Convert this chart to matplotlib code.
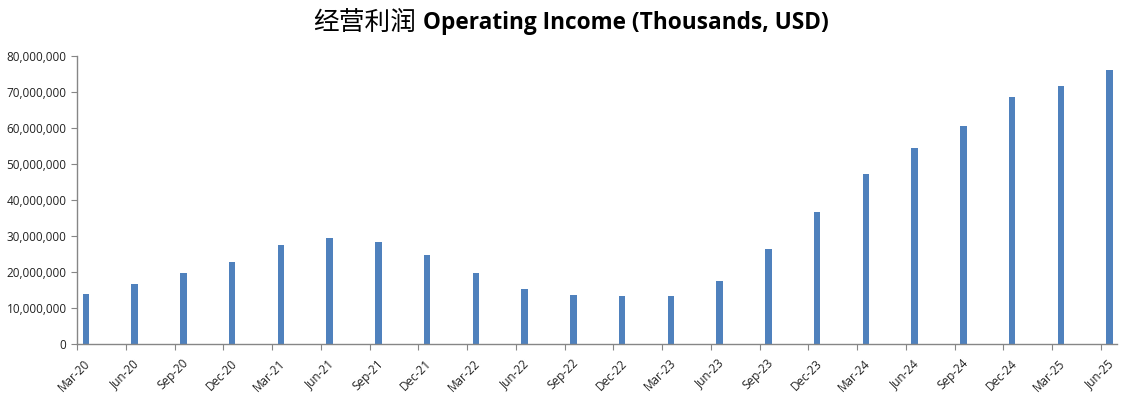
import matplotlib
matplotlib.use("Agg")
import matplotlib.pyplot as plt
from matplotlib.ticker import FuncFormatter
from matplotlib.transforms import ScaledTranslation

quarters = ["Mar-20", "Jun-20", "Sep-20", "Dec-20", "Mar-21", "Jun-21", "Sep-21", "Dec-21",
            "Mar-22", "Jun-22", "Sep-22", "Dec-22", "Mar-23", "Jun-23", "Sep-23", "Dec-23",
            "Mar-24", "Jun-24", "Sep-24", "Dec-24", "Mar-25", "Jun-25"]
income = [14.0e6, 16.8e6, 19.8e6, 22.9e6, 27.6e6, 29.5e6, 28.2e6, 24.8e6,
          19.8e6, 15.4e6, 13.5e6, 13.2e6, 13.2e6, 17.6e6, 26.3e6, 36.8e6,
          47.3e6, 54.5e6, 60.6e6, 68.7e6, 71.7e6, 76.1e6]

# each quarter-end month is one slot on a monthly axis
month_pos = [3 * i for i in range(len(quarters))]

fig = plt.figure(figsize=(11.33, 3.99), dpi=100)
ax = fig.add_axes([77 / 1133, 1 - 344 / 399, 1040 / 1133, 288 / 399])

ax.bar([m + 0.55 for m in month_pos], income, width=0.4, color="#4F81BD")

ax.set_xlim(0, month_pos[-1] + 1)
ax.set_ylim(0, 80e6)
ax.set_yticks(range(0, 80000001, 10000000))
ax.yaxis.set_major_formatter(FuncFormatter(lambda v, p: f"{int(v):,}"))
ax.set_xticks(month_pos)
ax.set_xticklabels(quarters, rotation=45, ha="right", rotation_mode="anchor")

for s in ["top", "right"]:
    ax.spines[s].set_visible(False)
for s in ["left", "bottom"]:
    ax.spines[s].set_color("#868686")
    ax.spines[s].set_linewidth(1)
ax.tick_params(axis="both", colors="#868686", length=4, labelcolor="#222222",
               labelsize=8.5, labelfontfamily="Open Sans")
ax.tick_params(axis="x", pad=3)
shift = ScaledTranslation(7 / 100, -3 / 100, fig.dpi_scale_trans)
for lab in ax.get_xticklabels():
    lab.set_transform(lab.get_transform() + shift)

# title: chinese part + bold english part side by side
t1 = fig.text(0.0, 1 - 23 / 399, "经营利润", fontsize=18.5, family="Noto Sans CJK SC",
              va="center", ha="left")
t2 = fig.text(0.0, 1 - 23 / 399, " Operating Income (Thousands, USD)", fontsize=16.3,
              family="Open Sans", weight="bold", va="center", ha="left")
fig.canvas.draw()
r = fig.canvas.get_renderer()
w1 = t1.get_window_extent(r).width
w2 = t2.get_window_extent(r).width
x0 = (571 - (w1 + w2) / 2)
t1.set_x(x0 / 1133)
t2.set_x((x0 + w1) / 1133)

fig.savefig("out.png", dpi=100)
